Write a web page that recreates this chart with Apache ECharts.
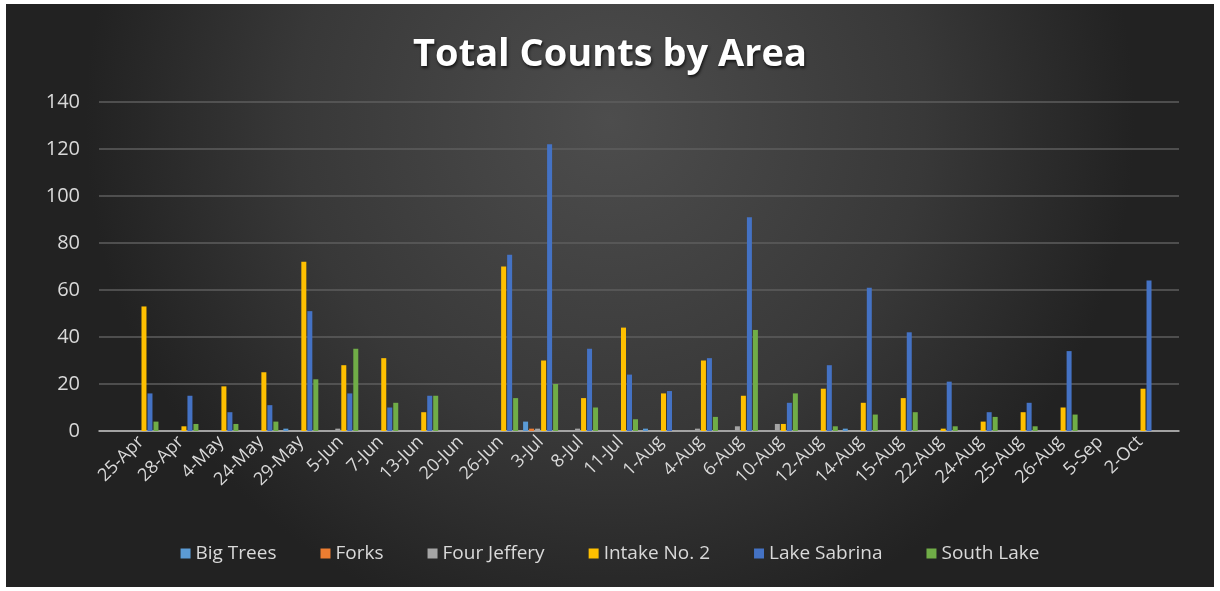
<!DOCTYPE html>
<html>
<head>
<meta charset="utf-8">
<script src="https://cdn.jsdelivr.net/npm/echarts@6/dist/echarts.min.js"></script>
<style>
html,body{margin:0;padding:0;background:#ffffff;}
#chart{position:absolute;left:6px;top:4px;width:1208px;height:583px;}
</style>
</head>
<body>
<div id="chart"></div>
<script>
var categories = ['25-Apr','28-Apr','4-May','24-May','29-May','5-Jun','7-Jun','13-Jun','20-Jun','26-Jun','3-Jul','8-Jul','11-Jul','1-Aug','4-Aug','6-Aug','10-Aug','12-Aug','14-Aug','15-Aug','22-Aug','24-Aug','25-Aug','26-Aug','5-Sep','2-Oct'];
var bigTrees    = [0,0,0,0,1,0,0,0,0,0,4,0,0,1,0,0,0,0,1,0,0,0,0,0,0,0];
var forks       = [0,0,0,0,0,0,0,0,0,0,1,0,0,0,0,0,0,0,0,0,0,0,0,0,0,0];
var fourJeffery = [0,0,0,0,0,1,0,0,0,0,1,1,0,0,1,2,3,0,0,0,0,0,0,0,0,0];
var intakeNo2   = [53,2,19,25,72,28,31,8,0,70,30,14,44,16,30,15,3,18,12,14,1,4,8,10,0,18];
var lakeSabrina = [16,15,8,11,51,16,10,15,0,75,122,35,24,17,31,91,12,28,61,42,21,8,12,34,0,64];
var southLake   = [4,3,3,4,22,35,12,15,0,14,20,10,5,0,6,43,16,2,7,8,2,6,2,7,0,0];
var seriesNames = ['Big Trees','Forks','Four Jeffery','Intake No. 2','Lake Sabrina','South Lake'];
var seriesData = [bigTrees, forks, fourJeffery, intakeNo2, lakeSabrina, southLake];
var colors = ['#5B9BD5','#ED7D31','#A5A5A5','#FFC000','#4472C4','#70AD47'];
var yMin = 0, yMax = 140, yStep = 20;

var chart = echarts.init(document.getElementById('chart'), null, {renderer:'canvas'});
var font = '"Open Sans", "Noto Sans", sans-serif';
var series = seriesNames.map(function(n, i){
  return {
    name: n, type: 'bar', xAxisIndex: 1, yAxisIndex: 1,
    data: seriesData[i], barWidth: 5, barGap: '20%',
    itemStyle: {color: colors[i]},
    animation: false
  };
});
chart.setOption({
  backgroundColor: {
    type: 'radial', x: 0.5, y: 0.2, r: 0.9,
    colorStops: [{offset:0, color:'#4d4d4d'},{offset:0.6, color:'#383838'},{offset:1, color:'#222222'}]
  },
  color: colors,
  title: {
    text: 'Total Counts by Area', left: 'center', top: 27,
    textStyle: {color:'#ffffff', fontFamily: font, fontWeight:'bold', fontSize: 38,
      textShadowColor:'rgba(0,0,0,0.7)', textShadowBlur:3, textShadowOffsetX:1, textShadowOffsetY:2}
  },
  legend: {
    data: seriesNames, bottom: 19, left: 'center', itemWidth: 10, itemHeight: 10, itemGap: 44,
    icon: 'rect',
    textStyle: {color:'#d9d9d9', fontFamily: font, fontSize: 19}
  },
  grid: [
    {left: 93, right: 35, top: 98, bottom: 156},
    {left: 115, right: 54, top: 98, bottom: 156}
  ],
  xAxis: [
    {gridIndex:0, type:'category', data: categories, show: true,
      axisLine:{show:true, lineStyle:{color:'#bfbfbf', width:1.5}},
      axisTick:{show:false}, axisLabel:{show:false}, splitLine:{show:false}},
    {gridIndex:1, type:'category', data: categories,
      axisLine:{show:false}, axisTick:{show:false},
      axisLabel:{rotate:45, interval:0, color:'#d9d9d9', fontFamily: font, fontSize:18, margin:8}}
  ],
  yAxis: [
    {gridIndex:0, type:'value', min:yMin, max:yMax, interval:yStep,
      axisLine:{show:false}, axisTick:{show:false},
      axisLabel:{color:'#d9d9d9', fontFamily: font, fontSize:20, margin:19},
      splitLine:{lineStyle:{color:'#5e5e5e', width:1.5}}},
    {gridIndex:1, type:'value', min:yMin, max:yMax, interval:yStep, show:false,
      splitLine:{show:false}}
  ],
  series: series,
  animation: false
});
</script>
</body>
</html>
